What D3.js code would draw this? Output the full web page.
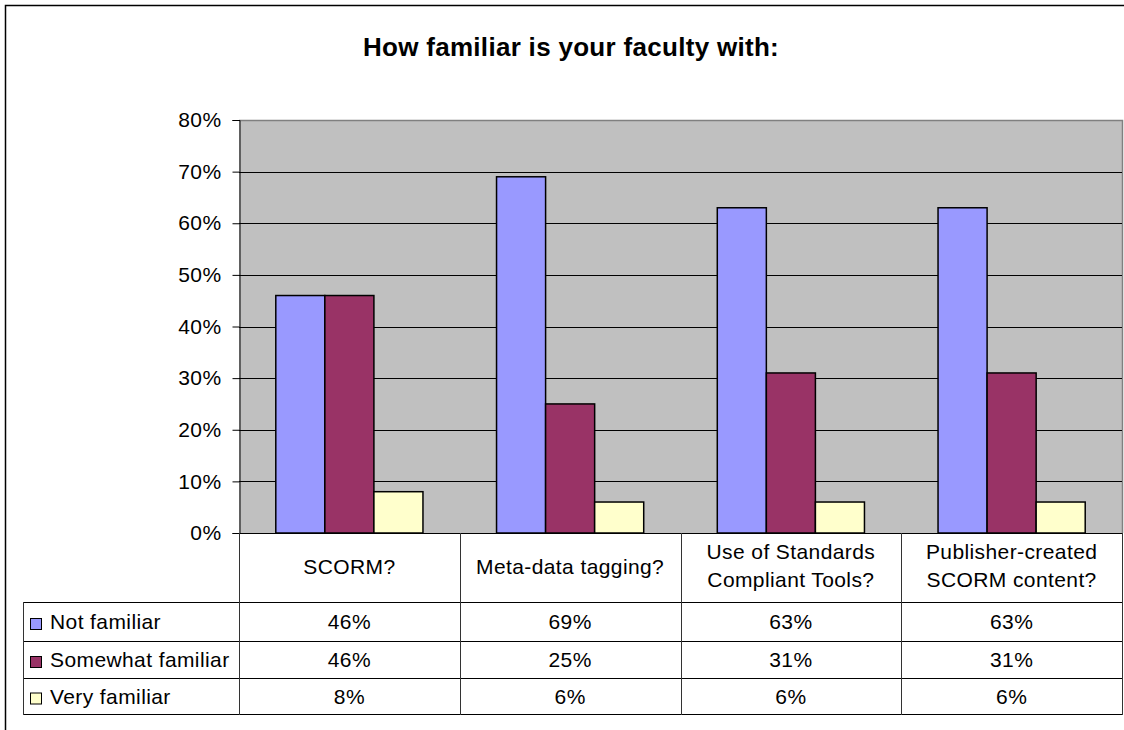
<!DOCTYPE html>
<html>
<head>
<meta charset="utf-8">
<script src="https://cdnjs.cloudflare.com/ajax/libs/d3/7.8.5/d3.min.js"></script>
<style>
	body { margin: 0; background: #fff; }
	text { font-family: Arial, "Liberation Sans", sans-serif; fill: #000; }
</style>
</head>
<body>
<div class="chart"></div>
<script>
// data
const categories = [['SCORM?'], ['Meta-data tagging?'], ['Use of Standards', 'Compliant Tools?'], ['Publisher-created', 'SCORM content?']];
const seriesNames = ['Not familiar', 'Somewhat familiar', 'Very familiar'];
const notFamiliar = [46, 69, 63, 63];
const somewhatFamiliar = [46, 25, 31, 31];
const veryFamiliar = [8, 6, 6, 6];
const yTicks = [0, 10, 20, 30, 40, 50, 60, 70, 80];
const colors = ['#9999FF', '#993366', '#FFFFCC'];

const seriesValues = [notFamiliar, somewhatFamiliar, veryFamiliar];

let w = 1124;
let h = 730;
let plotLeft = 239, plotRight = 1122, plotTop = 120, plotBottom = 533;
let legendLeft = 23;
// table row edges: header, then one row per series
let rowEdges = [plotBottom, 602, 641, 678, 714];
let fs = '21px';
let ls = '0.4px';

let svg = d3.select('.chart').append('svg').attr('width', w).attr('height', h);

// outer frame
svg.append('rect')
	.attr('x', 5.5).attr('y', 5.5)
	.attr('width', w + 20).attr('height', h + 20)
	.attr('fill', 'none').attr('stroke', '#000').attr('stroke-width', 1.5);

// title
svg.append('text')
	.attr('x', 571).attr('y', 56)
	.attr('text-anchor', 'middle')
	.attr('font-size', '26px')
	.attr('font-weight', 'bold')
	.attr('letter-spacing', '0.3px')
	.text('How familiar is your faculty with:');

let x0 = d3.scaleBand().domain(d3.range(categories.length)).range([plotLeft, plotRight]);
let x1 = d3.scaleBand().domain(d3.range(seriesNames.length)).range([0, x0.bandwidth()]).paddingOuter(0.75);
let y = d3.scaleLinear().domain([0, 80]).range([plotBottom, plotTop]);

// plot area
svg.append('rect')
	.attr('x', plotLeft).attr('y', plotTop)
	.attr('width', plotRight - plotLeft).attr('height', plotBottom - plotTop)
	.attr('fill', '#C0C0C0');
svg.append('path')
	.attr('d', `M${plotLeft},${plotTop + 0.5}H${plotRight + 0.5}V${plotBottom}`)
	.attr('fill', 'none').attr('stroke', '#808080').attr('stroke-width', 1.5);

// gridlines
svg.append('g')
	.selectAll('line')
	.data(yTicks.filter((d) => d > 0 && d < 80))
	.enter()
	.append('line')
	.attr('x1', plotLeft).attr('x2', plotRight)
	.attr('y1', (d) => Math.round(y(d)) + 0.5).attr('y2', (d) => Math.round(y(d)) + 0.5)
	.attr('stroke', '#000');

// y axis
let yAxis = svg.append('g')
	.attr('transform', 'translate(' + (plotLeft + 0.5) + ',0)')
	.call(d3.axisLeft(y).tickValues(yTicks).tickSize(7).tickPadding(11).tickFormat((d) => d + '%'));
yAxis.select('.domain').attr('stroke', '#000');
yAxis.selectAll('.tick line').attr('stroke', '#000');
yAxis.selectAll('.tick text')
	.attr('font-size', fs)
	.attr('letter-spacing', ls)
	.attr('font-family', 'Arial, "Liberation Sans", sans-serif')
	.attr('fill', '#000');

// bars
let groups = svg.append('g')
	.selectAll('g')
	.data(seriesValues)
	.enter()
	.append('g')
	.attr('fill', (d, i) => colors[i]);

groups.each(function(vals, s) {
	d3.select(this)
		.selectAll('rect')
		.data(vals)
		.enter()
		.append('rect')
		.attr('x', (d, i) => x0(i) + x1(s))
		.attr('y', (d) => y(d))
		.attr('width', x1.bandwidth())
		.attr('height', (d) => plotBottom - y(d))
		.attr('stroke', '#000')
		.attr('stroke-width', 1.5)
		.append('title')
		.text((d, i) => `${seriesNames[s]} - ${categories[i].join(' ')}: ${d}%`);
});

// x axis baseline
svg.append('line')
	.attr('x1', plotLeft).attr('x2', plotRight)
	.attr('y1', plotBottom + 0.5).attr('y2', plotBottom + 0.5)
	.attr('stroke', '#000');

// data table
let table = svg.append('g');

// horizontal rules
table.selectAll('line.h')
	.data(rowEdges.slice(1))
	.enter()
	.append('line')
	.attr('class', 'h')
	.attr('x1', legendLeft).attr('x2', plotRight)
	.attr('y1', (d) => d + 0.5).attr('y2', (d) => d + 0.5)
	.attr('stroke', '#000');

// vertical rules between categories
let colEdges = d3.range(categories.length + 1).map((i) => (i < categories.length ? x0(i) : plotRight));
table.selectAll('line.v')
	.data(colEdges)
	.enter()
	.append('line')
	.attr('class', 'v')
	.attr('x1', (d) => Math.round(d) + 0.5).attr('x2', (d) => Math.round(d) + 0.5)
	.attr('y1', plotBottom).attr('y2', rowEdges[rowEdges.length - 1] + 1)
	.attr('stroke', '#333');

// legend column left edge
table.append('line')
	.attr('x1', legendLeft + 0.5).attr('x2', legendLeft + 0.5)
	.attr('y1', rowEdges[1]).attr('y2', rowEdges[rowEdges.length - 1] + 1)
	.attr('stroke', '#333');

// category labels, centred in the header row
categories.forEach((lines, i) => {
	let cx = x0(i) + x0.bandwidth() / 2;
	let t = table.append('text')
		.attr('text-anchor', 'middle')
		.attr('font-size', fs)
		.attr('letter-spacing', ls);
	let y0 = lines.length === 1 ? 574 : 559;
	lines.forEach((ln, k) => {
		t.append('tspan').attr('x', cx).attr('y', y0 + k * 28).text(ln);
	});
});

// series rows
seriesNames.forEach((name, s) => {
	let rowMid = (rowEdges[s + 1] + rowEdges[s + 2]) / 2;
	table.append('rect')
		.attr('x', 30.5).attr('y', rowMid - 3)
		.attr('width', 11).attr('height', 11)
		.attr('fill', colors[s])
		.attr('stroke', '#000');
	table.append('text')
		.attr('x', 50).attr('y', rowMid + 7.5)
		.attr('font-size', fs)
		.attr('letter-spacing', ls)
		.text(name);
	table.selectAll('text.v' + s)
		.data(seriesValues[s])
		.enter()
		.append('text')
		.attr('class', 'v' + s)
		.attr('x', (d, i) => x0(i) + x0.bandwidth() / 2)
		.attr('y', rowMid + 7.5)
		.attr('text-anchor', 'middle')
		.attr('font-size', fs)
		.attr('letter-spacing', ls)
		.text((d) => d + '%');
});
</script>
</body>
</html>
